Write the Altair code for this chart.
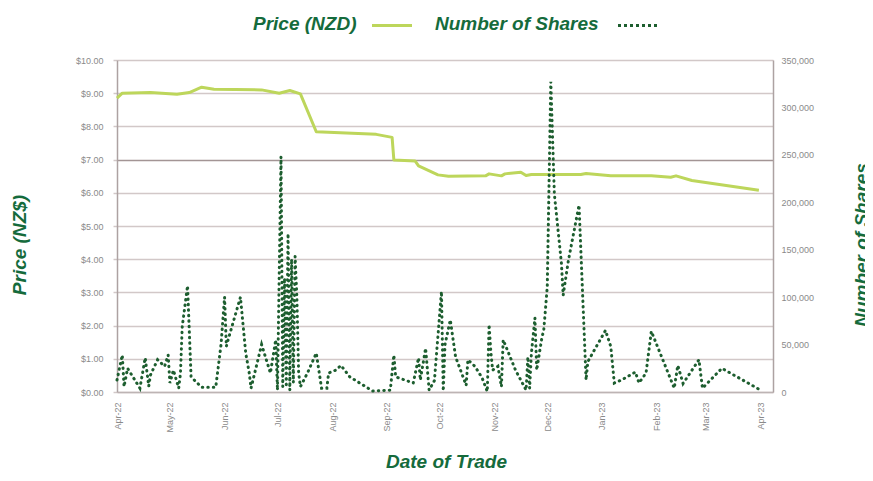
import altair as alt
import pandas as pd

# ---------------- data ----------------
price_dates = [
    "2022-04-01", "2022-04-04", "2022-04-20", "2022-05-05", "2022-05-12",
    "2022-05-19", "2022-05-26", "2022-06-22", "2022-07-02", "2022-07-08",
    "2022-07-14", "2022-07-23", "2022-08-26", "2022-09-04", "2022-09-05",
    "2022-09-17", "2022-09-19", "2022-09-30", "2022-10-06", "2022-10-27",
    "2022-10-29", "2022-11-05", "2022-11-07", "2022-11-16", "2022-11-19",
    "2022-11-22", "2022-12-20", "2022-12-23", "2023-01-06", "2023-01-29",
    "2023-02-09", "2023-02-12", "2023-02-21", "2023-03-31",
]
price_values = [
    8.85, 9.00, 9.02, 8.97, 9.02,
    9.18, 9.12, 9.10, 9.00, 9.08,
    8.98, 7.84, 7.76, 7.67, 6.99,
    6.96, 6.81, 6.54, 6.50, 6.51,
    6.57, 6.51, 6.57, 6.62, 6.52,
    6.55, 6.55, 6.58, 6.51, 6.51,
    6.47, 6.51, 6.37, 6.08,
]

share_dates = [
    "2022-04-01", "2022-04-04", "2022-04-05", "2022-04-07", "2022-04-14",
    "2022-04-17", "2022-04-19", "2022-04-20", "2022-04-24", "2022-04-28",
    "2022-04-30", "2022-05-01", "2022-05-03", "2022-05-06", "2022-05-07",
    "2022-05-08", "2022-05-11", "2022-05-13", "2022-05-19", "2022-05-27",
    "2022-05-30", "2022-06-01", "2022-06-02", "2022-06-03", "2022-06-10",
    "2022-06-13", "2022-06-15", "2022-06-16", "2022-06-22", "2022-06-27",
    "2022-06-30", "2022-07-01", "2022-07-03", "2022-07-04", "2022-07-05",
    "2022-07-06", "2022-07-07", "2022-07-08", "2022-07-09", "2022-07-10",
    "2022-07-11", "2022-07-12", "2022-07-13", "2022-07-14", "2022-07-18",
    "2022-07-23", "2022-07-26", "2022-07-29", "2022-07-30", "2022-08-03",
    "2022-08-06", "2022-08-11", "2022-08-24", "2022-09-03", "2022-09-05",
    "2022-09-06", "2022-09-16", "2022-09-19", "2022-09-20", "2022-09-23",
    "2022-09-25", "2022-09-28", "2022-10-02", "2022-10-03", "2022-10-04",
    "2022-10-07", "2022-10-10", "2022-10-16", "2022-10-17", "2022-10-21",
    "2022-10-25", "2022-10-28", "2022-10-29", "2022-10-30", "2022-10-31",
    "2022-11-03", "2022-11-05", "2022-11-06", "2022-11-13", "2022-11-19",
    "2022-11-20", "2022-11-21", "2022-11-22", "2022-11-24", "2022-11-25",
    "2022-11-28", "2022-11-29", "2022-12-01", "2022-12-03", "2022-12-05",
    "2022-12-09", "2022-12-10", "2022-12-13", "2022-12-19", "2022-12-23",
    "2022-12-24", "2023-01-03", "2023-01-06", "2023-01-08", "2023-01-12",
    "2023-01-20", "2023-01-22", "2023-01-26", "2023-01-29", "2023-02-11",
    "2023-02-13", "2023-02-16", "2023-02-25", "2023-02-27", "2023-03-10",
    "2023-03-31",
]
share_values = [
    12600, 39000, 5600, 25000, 4000,
    36000, 6000, 18000, 34000, 27000,
    39000, 9500, 23000, 4000, 20000,
    69000, 112000, 16000, 5000, 5000,
    50000, 100000, 48000, 55000, 100000,
    41000, 20000, 4000, 50000, 20000,
    55000, 2000, 248000, 5600, 120000,
    5000, 167000, 2000, 140000, 10000,
    143000, 100000, 20000, 5600, 20000,
    41000, 4000, 4000, 20000, 23000,
    28000, 16000, 1000, 2000, 39000,
    16000, 9500, 36000, 12600, 46000,
    2000, 12000, 106000, 1000, 50000,
    76000, 37000, 7000, 34000, 27000,
    15000, 500, 71000, 42000, 23000,
    27000, 5600, 55000, 23000, 2000,
    37000, 4000, 41000, 78000, 23000,
    58000, 65000, 111000, 327000, 209000,
    136000, 102000, 139000, 197000, 12600,
    32000, 65000, 48000, 9500, 12600,
    21000, 9500, 20000, 64000, 4000,
    28000, 9000, 34000, 4000, 25000,
    3000,
]

price_ticks = list(range(0, 11))
share_ticks = [0, 50000, 100000, 150000, 200000, 250000, 300000, 350000]

legend_price = "Price (NZD)"
legend_shares = "Number of Shares"
title_left = "Price (NZ$)"
title_right = "Number of Shares"
title_bottom = "Date of Trade"

# ---------------- styling ----------------
GREEN_TEXT = "#156b3c"
PRICE_COLOR = "#bdd65b"
SHARE_COLOR = "#1d5e2f"
GRID = "#d2c8c8"
AXISLINE = "#ada2a2"
LABEL = "#8a8a8a"
FONT = "Liberation Sans"

price_df = pd.DataFrame({"date": price_dates, "price": price_values})
share_df = pd.DataFrame({"date": share_dates, "shares": share_values})

x_enc = alt.X(
    "date:T",
    scale=alt.Scale(
        type="utc",
        domain=[
            alt.DateTime(year=2022, month=4, date=1, utc=True),
            alt.DateTime(year=2023, month=4, date=8, utc=True),
        ],
        nice=False,
    ),
    axis=alt.Axis(
        title=None,
        format="%b-%y",
        tickCount={"interval": "month", "step": 1},
        labelAngle=270,
        labelFontSize=9,
        labelFont=FONT,
        labelColor=LABEL,
        labelPadding=10,
        ticks=False,
        grid=False,
        domainColor="#bdb4b4",
        domainWidth=1.5,
    ),
)

price_line = alt.Chart(price_df).mark_line(
    color=PRICE_COLOR, strokeWidth=3, strokeJoin="round"
).encode(
    x=x_enc,
    y=alt.Y(
        "price:Q",
        scale=alt.Scale(domain=[0, 10], nice=False),
        axis=alt.Axis(
            title=None,
            orient="left",
            values=price_ticks,
            format="$.2f",
            labelFontSize=9,
            labelFont=FONT,
            labelColor=LABEL,
            labelPadding=10,
            tickSize=4,
            tickColor=GRID,
            tickWidth=1.5,
            grid=True,
            gridColor={"condition": {"test": "datum.value === 7", "value": "#a39595"}, "value": GRID},
            gridWidth=1.5,
            domainColor=AXISLINE,
            domainWidth=1.5,
        ),
    ),
)

share_line = alt.Chart(share_df).mark_line(
    color=SHARE_COLOR, strokeWidth=3, strokeDash=[0.5, 5], strokeCap="round"
).encode(
    x=x_enc,
    y=alt.Y(
        "shares:Q",
        scale=alt.Scale(domain=[0, 350000], nice=False),
        axis=alt.Axis(
            title=None,
            orient="right",
            values=share_ticks,
            format=",d",
            labelFontSize=9,
            labelFont=FONT,
            labelColor=LABEL,
            labelPadding=8,
            ticks=False,
            grid=False,
            domainColor=AXISLINE,
            domainWidth=1.5,
        ),
    ),
)


def text_layer(txt, x, y, angle=0, align="left", baseline="middle"):
    return alt.Chart(pd.DataFrame({"t": [txt]})).mark_text(
        font=FONT,
        fontSize=19,
        fontWeight="bold",
        fontStyle="italic",
        color=GREEN_TEXT,
        align=align,
        baseline=baseline,
        angle=angle,
    ).encode(text="t:N", x=alt.value(x), y=alt.value(y))


one = pd.DataFrame({"k": [1]})
price_swatch = alt.Chart(one).mark_rule(color=PRICE_COLOR, strokeWidth=3).encode(
    x=alt.value(255), x2=alt.value(295), y=alt.value(-34.5)
)
share_swatch = alt.Chart(one).mark_rule(
    color=SHARE_COLOR, strokeWidth=3, strokeDash=[3, 3]
).encode(x=alt.value(501), x2=alt.value(543), y=alt.value(-34.5))

chart = alt.layer(
    price_line,
    share_line,
    text_layer(legend_price, 136, -36),
    price_swatch,
    text_layer(legend_shares, 318, -36),
    share_swatch,
    text_layer(title_left, -97, 185, angle=270, align="center"),
    text_layer(title_right, 751, 185, angle=270, align="center", baseline="alphabetic"),
    text_layer(title_bottom, 329.5, 402, align="center"),
).resolve_scale(
    y="independent"
).properties(
    width=656,
    height=332,
    autosize=alt.AutoSizeParams(type="none"),
    padding={"left": 109, "top": 52, "right": 92, "bottom": 81},
    background="white",
).configure_view(stroke=None)

chart.save("out.html", embed_options={"renderer": "svg", "actions": False})
